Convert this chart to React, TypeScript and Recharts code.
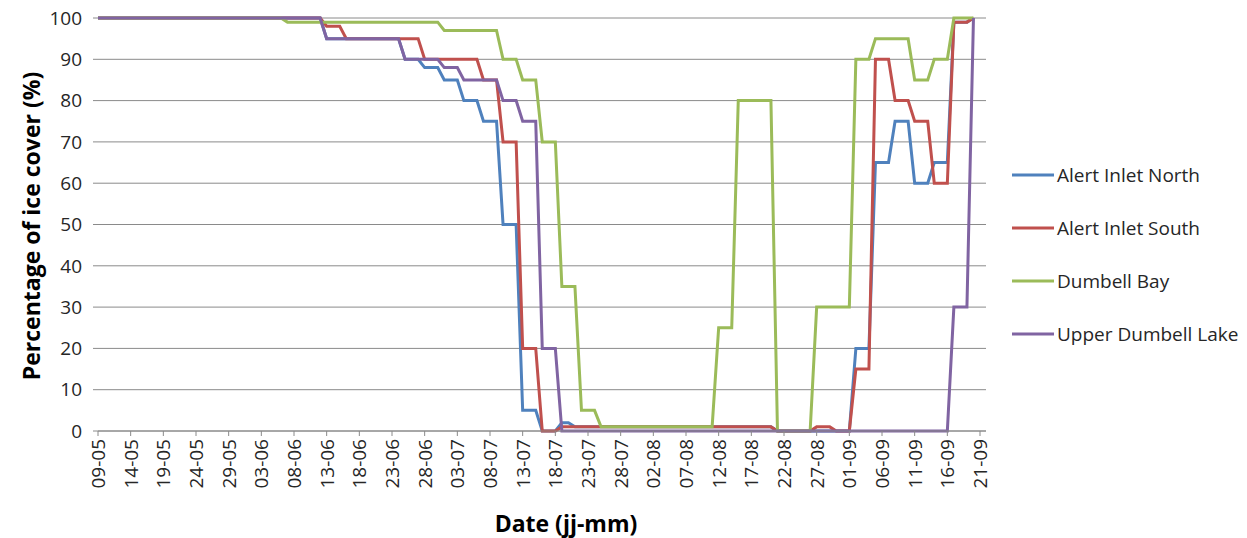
import React from 'react';
import { LineChart, Line, XAxis, YAxis, CartesianGrid, Legend } from 'recharts';

// one label per day (jj-mm), 09-05 to 21-09
const dates = [
  '09-05', '10-05', '11-05', '12-05', '13-05', '14-05', '15-05', '16-05', '17-05', '18-05',
  '19-05', '20-05', '21-05', '22-05', '23-05', '24-05', '25-05', '26-05', '27-05', '28-05',
  '29-05', '30-05', '31-05',
  '01-06', '02-06', '03-06', '04-06', '05-06', '06-06', '07-06', '08-06', '09-06', '10-06',
  '11-06', '12-06', '13-06', '14-06', '15-06', '16-06', '17-06', '18-06', '19-06', '20-06',
  '21-06', '22-06', '23-06', '24-06', '25-06', '26-06', '27-06', '28-06', '29-06', '30-06',
  '01-07', '02-07', '03-07', '04-07', '05-07', '06-07', '07-07', '08-07', '09-07', '10-07',
  '11-07', '12-07', '13-07', '14-07', '15-07', '16-07', '17-07', '18-07', '19-07', '20-07',
  '21-07', '22-07', '23-07', '24-07', '25-07', '26-07', '27-07', '28-07', '29-07', '30-07',
  '31-07',
  '01-08', '02-08', '03-08', '04-08', '05-08', '06-08', '07-08', '08-08', '09-08', '10-08',
  '11-08', '12-08', '13-08', '14-08', '15-08', '16-08', '17-08', '18-08', '19-08', '20-08',
  '21-08', '22-08', '23-08', '24-08', '25-08', '26-08', '27-08', '28-08', '29-08', '30-08',
  '31-08',
  '01-09', '02-09', '03-09', '04-09', '05-09', '06-09', '07-09', '08-09', '09-09', '10-09',
  '11-09', '12-09', '13-09', '14-09', '15-09', '16-09', '17-09', '18-09', '19-09', '20-09',
  '21-09',
];

// daily ice cover (%), 09-05 .. 20-09
const alertInletNorth = [
  100, 100, 100, 100, 100, 100, 100, 100, 100, 100,
  100, 100, 100, 100, 100, 100, 100, 100, 100, 100,
  100, 100, 100, 100, 100, 100, 100, 100, 100, 100,
  100, 100, 100, 100, 100, 95, 95, 95, 95, 95,
  95, 95, 95, 95, 95, 95, 95, 90, 90, 90,
  88, 88, 88, 85, 85, 85, 80, 80, 80, 75,
  75, 75, 50, 50, 50, 5, 5, 5, 0, 0,
  0, 2, 2, 1, 1, 1, 1, 1, 1, 1,
  1, 1, 1, 1, 1, 1, 1, 1, 1, 1,
  1, 1, 1, 1, 1, 1, 1, 1, 1, 1,
  1, 1, 1, 1, 0, 0, 0, 0, 0, 0,
  0, 0, 0, 0, 0, 0, 20, 20, 20, 65,
  65, 65, 75, 75, 75, 60, 60, 60, 65, 65,
  65, 99, 99, 99, 100,
];

const alertInletSouth = [
  100, 100, 100, 100, 100, 100, 100, 100, 100, 100,
  100, 100, 100, 100, 100, 100, 100, 100, 100, 100,
  100, 100, 100, 100, 100, 100, 100, 100, 100, 100,
  100, 100, 100, 100, 100, 98, 98, 98, 95, 95,
  95, 95, 95, 95, 95, 95, 95, 95, 95, 95,
  90, 90, 90, 90, 90, 90, 90, 90, 90, 85,
  85, 85, 70, 70, 70, 20, 20, 20, 0, 0,
  0, 1, 1, 1, 1, 1, 1, 1, 1, 1,
  1, 1, 1, 1, 1, 1, 1, 1, 1, 1,
  1, 1, 1, 1, 1, 1, 1, 1, 1, 1,
  1, 1, 1, 1, 0, 0, 0, 0, 0, 0,
  1, 1, 1, 0, 0, 0, 15, 15, 15, 90,
  90, 90, 80, 80, 80, 75, 75, 75, 60, 60,
  60, 99, 99, 99, 100,
];

const dumbellBay = [
  100, 100, 100, 100, 100, 100, 100, 100, 100, 100,
  100, 100, 100, 100, 100, 100, 100, 100, 100, 100,
  100, 100, 100, 100, 100, 100, 100, 100, 100, 99,
  99, 99, 99, 99, 99, 99, 99, 99, 99, 99,
  99, 99, 99, 99, 99, 99, 99, 99, 99, 99,
  99, 99, 99, 97, 97, 97, 97, 97, 97, 97,
  97, 97, 90, 90, 90, 85, 85, 85, 70, 70,
  70, 35, 35, 35, 5, 5, 5, 1, 1, 1,
  1, 1, 1, 1, 1, 1, 1, 1, 1, 1,
  1, 1, 1, 1, 1, 25, 25, 25, 80, 80,
  80, 80, 80, 80, 0, 0, 0, 0, 0, 0,
  30, 30, 30, 30, 30, 30, 90, 90, 90, 95,
  95, 95, 95, 95, 95, 85, 85, 85, 90, 90,
  90, 100, 100, 100, 100,
];

const upperDumbellLake = [
  100, 100, 100, 100, 100, 100, 100, 100, 100, 100,
  100, 100, 100, 100, 100, 100, 100, 100, 100, 100,
  100, 100, 100, 100, 100, 100, 100, 100, 100, 100,
  100, 100, 100, 100, 100, 95, 95, 95, 95, 95,
  95, 95, 95, 95, 95, 95, 95, 90, 90, 90,
  90, 90, 90, 88, 88, 88, 85, 85, 85, 85,
  85, 85, 80, 80, 80, 75, 75, 75, 20, 20,
  20, 0, 0, 0, 0, 0, 0, 0, 0, 0,
  0, 0, 0, 0, 0, 0, 0, 0, 0, 0,
  0, 0, 0, 0, 0, 0, 0, 0, 0, 0,
  0, 0, 0, 0, 0, 0, 0, 0, 0, 0,
  0, 0, 0, 0, 0, 0, 0, 0, 0, 0,
  0, 0, 0, 0, 0, 0, 0, 0, 0, 0,
  0, 30, 30, 30, 100,
];

const yTicks = [0, 10, 20, 30, 40, 50, 60, 70, 80, 90, 100];

const series = [
  { key: 'north', name: 'Alert Inlet North', color: '#4F81BD' },
  { key: 'south', name: 'Alert Inlet South', color: '#C0504D' },
  { key: 'bay', name: 'Dumbell Bay', color: '#9BBB59' },
  { key: 'lake', name: 'Upper Dumbell Lake', color: '#8064A2' },
];

const data = dates.map((date, i) => ({
  date,
  north: alertInletNorth[i],
  south: alertInletSouth[i],
  bay: dumbellBay[i],
  lake: upperDumbellLake[i],
}));

const GRID = '#8a8a8a';
const TEXT = '#262626';

function DateTick(props: any) {
  const { x, y, payload } = props;
  return (
    <text
      x={x}
      y={y}
      transform={`rotate(-90, ${x}, ${y})`}
      textAnchor="end"
      dominantBaseline="central"
      fontSize={19}
      fill={TEXT}
    >
      {payload.value}
    </text>
  );
}

const renderLegend = () => (
  <div>
    {series.map((s) => (
      <div key={s.key} style={{ display: 'flex', alignItems: 'center', height: 53 }}>
        <svg width={42} height={4} style={{ display: 'block' }}>
          <line x1={0} y1={2} x2={42} y2={2} stroke={s.color} strokeWidth={3} />
        </svg>
        <span style={{ marginLeft: 3, fontSize: 19, color: TEXT, whiteSpace: 'nowrap' }}>{s.name}</span>
      </div>
    ))}
  </div>
);

export default function App() {
  return (
    <div style={{ position: 'absolute', left: 0, top: 0, fontFamily: '"Open Sans", sans-serif', background: '#fff' }}>
      <LineChart width={1247} height={538} data={data} margin={{ top: 18, right: 261, bottom: 0, left: 0 }}>
        <CartesianGrid vertical={false} stroke={GRID} />
        <XAxis
          dataKey="date"
          interval={4}
          height={107}
          tickSize={5}
          tickMargin={3}
          padding={{ left: 0, right: 6 }}
          stroke={GRID}
          tick={<DateTick />}
          label={{
            content: () => (
              <text x={566} y={532} textAnchor="middle" fontSize={23} fontWeight="bold" fill="#000">
                Date (jj-mm)
              </text>
            ),
          }}
        />
        <YAxis
          domain={[0, 100]}
          ticks={yTicks}
          interval={0}
          width={98}
          axisLine={false}
          tickSize={5}
          tickMargin={11}
          tickLine={{ stroke: GRID }}
          tick={{ fill: TEXT, fontSize: 19 }}
          label={{
            content: () => (
              <text
                x={31}
                y={226}
                transform="rotate(-90, 31, 226)"
                textAnchor="middle"
                dominantBaseline="central"
                fontSize={23}
                fontWeight="bold"
                fill="#000"
              >
                Percentage of ice cover (%)
              </text>
            ),
          }}
        />
        <Legend
          layout="vertical"
          align="center"
          verticalAlign="middle"
          content={renderLegend}
          wrapperStyle={{ left: 1012, top: 148, width: 235 }}
        />
        {series.map((s) => (
          <Line
            key={s.key}
            type="linear"
            dataKey={s.key}
            name={s.name}
            stroke={s.color}
            strokeWidth={3}
            dot={false}
            activeDot={false}
            isAnimationActive={false}
          />
        ))}
      </LineChart>
    </div>
  );
}
